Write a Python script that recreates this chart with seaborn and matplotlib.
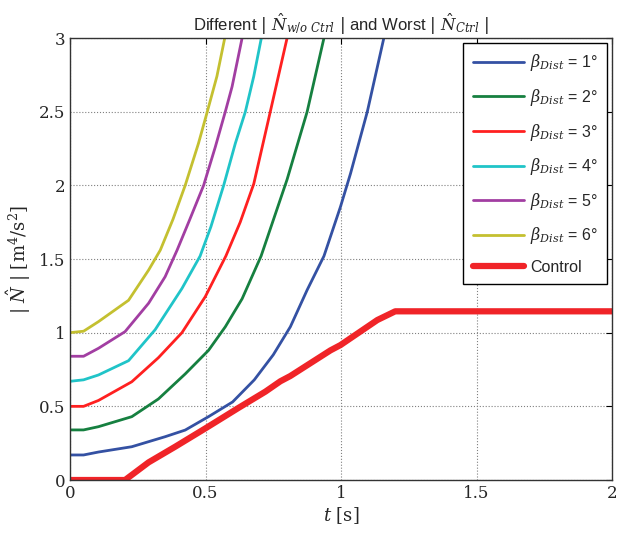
import numpy as np
import pandas as pd
import matplotlib
matplotlib.use("Agg")
import matplotlib.pyplot as plt
from matplotlib.ticker import FuncFormatter
import seaborn as sns

# ---- data ----
t_b1 = [0, 0.05, 0.105, 0.228, 0.351, 0.425, 0.511, 0.6, 0.68, 0.75, 0.813, 0.875, 0.937, 0.998, 1.035, 1.097, 1.158]
n_b1 = [0.17, 0.17, 0.19, 0.226, 0.294, 0.339, 0.43, 0.53, 0.68, 0.85, 1.04, 1.29, 1.52, 1.855, 2.08, 2.5, 3.0]

t_b2 = [0, 0.05, 0.105, 0.228, 0.326, 0.425, 0.511, 0.573, 0.635, 0.705, 0.801, 0.875, 0.937]
n_b2 = [0.34, 0.34, 0.362, 0.43, 0.55, 0.72, 0.88, 1.04, 1.23, 1.52, 2.04, 2.5, 3.0]

t_b3 = [0, 0.05, 0.105, 0.228, 0.326, 0.413, 0.499, 0.575, 0.628, 0.678, 0.739, 0.801]
n_b3 = [0.5, 0.5, 0.54, 0.667, 0.83, 1.0, 1.244, 1.52, 1.75, 2.01, 2.5, 3.0]

t_b4 = [0, 0.05, 0.105, 0.216, 0.314, 0.413, 0.48, 0.52, 0.567, 0.61, 0.647, 0.678, 0.706]
n_b4 = [0.67, 0.68, 0.713, 0.81, 1.02, 1.3, 1.52, 1.72, 2.0, 2.285, 2.5, 2.74, 3.0]

t_b5 = [0, 0.05, 0.105, 0.203, 0.29, 0.351, 0.395, 0.44, 0.493, 0.536, 0.573, 0.598, 0.635]
n_b5 = [0.84, 0.84, 0.894, 1.007, 1.2, 1.38, 1.56, 1.76, 2.0, 2.26, 2.5, 2.67, 3.0]

t_b6 = [0, 0.05, 0.105, 0.216, 0.29, 0.333, 0.38, 0.425, 0.474, 0.505, 0.542, 0.571]
n_b6 = [1.0, 1.01, 1.075, 1.22, 1.425, 1.56, 1.77, 2.0, 2.285, 2.49, 2.74, 3.0]

t_ctrl = [0, 0.203, 0.29, 0.388, 0.499, 0.622, 0.721, 0.776, 0.813, 0.961, 0.998, 1.134, 1.2, 2.0]
n_ctrl = [0, 0, 0.12, 0.226, 0.35, 0.49, 0.6, 0.67, 0.706, 0.88, 0.916, 1.086, 1.145, 1.145]

labels = [r'$\beta_{Dist}$ = 1°', r'$\beta_{Dist}$ = 2°', r'$\beta_{Dist}$ = 3°',
          r'$\beta_{Dist}$ = 4°', r'$\beta_{Dist}$ = 5°', r'$\beta_{Dist}$ = 6°']
colors = ['#3451a3', '#168040', '#ff2020', '#20c4c8', '#a23ea2', '#c4c030']

x_ticks = [0, 0.5, 1, 1.5, 2]
y_ticks = [0, 0.5, 1, 1.5, 2, 2.5, 3]

sns.set_style("white")
plt.rcParams['font.family'] = ['DejaVu Serif']
plt.rcParams['mathtext.fontset'] = 'dejavuserif'

fig = plt.figure(figsize=(6.23, 5.33), dpi=100)
ax = fig.add_axes([0.1124, 0.0994, 0.8700, 0.8293])

series = [(t_b1, n_b1), (t_b2, n_b2), (t_b3, n_b3), (t_b4, n_b4), (t_b5, n_b5), (t_b6, n_b6)]
for (t, n), lab, c in zip(series, labels, colors):
    df = pd.DataFrame({'t': t, 'N': n})
    sns.lineplot(data=df, x='t', y='N', ax=ax, color=c, lw=2, label=lab, sort=False)

dfc = pd.DataFrame({'t': t_ctrl, 'N': n_ctrl})
sns.lineplot(data=dfc, x='t', y='N', ax=ax, color='#f02428', lw=4.5, label='Control', sort=False)

ax.set_xlim(0, 2)
ax.set_ylim(0, 3)
ax.set_xticks(x_ticks)
ax.set_yticks(y_ticks)
ax.xaxis.set_major_formatter(FuncFormatter(lambda v, p: f'{v:g}'))
ax.yaxis.set_major_formatter(FuncFormatter(lambda v, p: f'{v:g}'))
ax.tick_params(direction='in', top=True, right=True, length=4, labelsize=12, width=0.8, color='black')
ax.grid(True, linestyle=':', color='#808080', linewidth=0.8)
for s in ax.spines.values():
    s.set_color('#333333')
    s.set_linewidth(1.0)

ax.set_xlabel(r'$t$ [s]', fontsize=13, labelpad=2)
ax.set_ylabel(r'$|\ \hat{N}\ |$ [m$^4$/s$^2$]', fontsize=13, labelpad=4)
ax.set_title(r'Different $|\ \hat{N}_{w/o\ Ctrl}\ |$ and Worst $|\ \hat{N}_{Ctrl}\ |$',
             fontsize=12, family='Liberation Sans', pad=6)

leg = ax.legend(loc='upper right', fontsize=11.5, frameon=True, fancybox=False,
                edgecolor='black', framealpha=1, handlelength=3.2, labelspacing=0.85,
                borderaxespad=0.3, borderpad=0.6, handletextpad=0.4)
leg.get_frame().set_linewidth(1.0)
for txt in leg.get_texts():
    txt.set_family('Liberation Sans')

fig.savefig('out.png', dpi=100)
